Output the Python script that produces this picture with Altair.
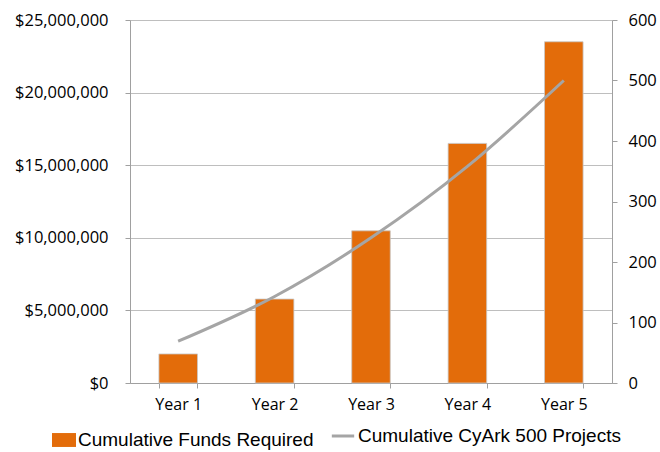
import altair as alt
import pandas as pd

years = ["Year 1", "Year 2", "Year 3", "Year 4", "Year 5"]
funds = [2000000, 5780000, 10480000, 16500000, 23500000]
projects = [69, 143, 240, 358, 500]

df = pd.DataFrame({"year": years, "funds": funds, "projects": projects,
                   "s1": "Cumulative Funds Required", "s2": "Cumulative CyArk 500 Projects"})

W, H = 482, 363
xenc = alt.X("year:N", sort=years,
             scale=alt.Scale(paddingInner=0.6, paddingOuter=0.3),
             axis=alt.Axis(title=None, labelAngle=0, tickBand="extent", tickSize=5,
                           labelPadding=8, domainColor="#A0A0A0", tickColor="#A0A0A0",
                           labelFont="Open Sans", labelFontSize=16, labelColor="#000000",
                           grid=False))

bars = alt.Chart(df).mark_bar(stroke="#C8C8C8", strokeWidth=0.8).encode(
    x=xenc,
    y=alt.Y("funds:Q", scale=alt.Scale(domain=[0, 25000000], nice=False),
            axis=alt.Axis(title=None, format="$,.0f", values=[0, 5000000, 10000000, 15000000, 20000000, 25000000],
                          tickSize=5, labelPadding=17, domainColor="#A0A0A0", tickColor="#A0A0A0",
                          gridColor="#BEBEBE", gridWidth=1.2,
                          labelFont="Open Sans", labelFontSize=16.5, labelColor="#000000")),
    color=alt.Color("s1:N", scale=alt.Scale(range=["#E36C0A"]),
                    legend=alt.Legend(title=None, orient="none", legendX=-78, legendY=408,
                                      symbolType="M-1,-0.58H1V0.58H-1Z", symbolSize=576,
                                      symbolStrokeWidth=0, labelLimit=400,
                                      labelFont="Liberation Sans", labelFontSize=19, labelColor="#000000",
                                      labelOffset=2)),
)

line = alt.Chart(df).mark_line(strokeWidth=3, interpolate="monotone").encode(
    x=alt.X("year:N", sort=years),
    y=alt.Y("projects:Q", scale=alt.Scale(domain=[0, 600], nice=False),
            axis=alt.Axis(title=None, orient="right", values=[0, 100, 200, 300, 400, 500, 600],
                          tickSize=5, labelPadding=11, domainColor="#A0A0A0", tickColor="#A0A0A0",
                          grid=False,
                          labelFont="Open Sans", labelFontSize=16.5, labelColor="#000000")),
    stroke=alt.Stroke("s2:N", scale=alt.Scale(range=["#A5A5A5"]),
                      legend=alt.Legend(title=None, orient="none", legendX=200, legendY=403,
                                        symbolType="stroke", symbolSize=500, symbolStrokeWidth=3,
                                        labelLimit=400,
                                        labelFont="Liberation Sans", labelFontSize=19, labelColor="#000000",
                                        labelOffset=2)),
)

chart = alt.layer(bars, line).resolve_scale(y="independent", color="independent").properties(
    width=W, height=H,
    autosize=alt.AutoSizeParams(type="none"),
    padding={"left": 130, "top": 20, "right": 48, "bottom": 69},
).configure_view(stroke=None).configure(background="white")

chart.save("out.html", embed_options={"renderer": "svg", "actions": False})
